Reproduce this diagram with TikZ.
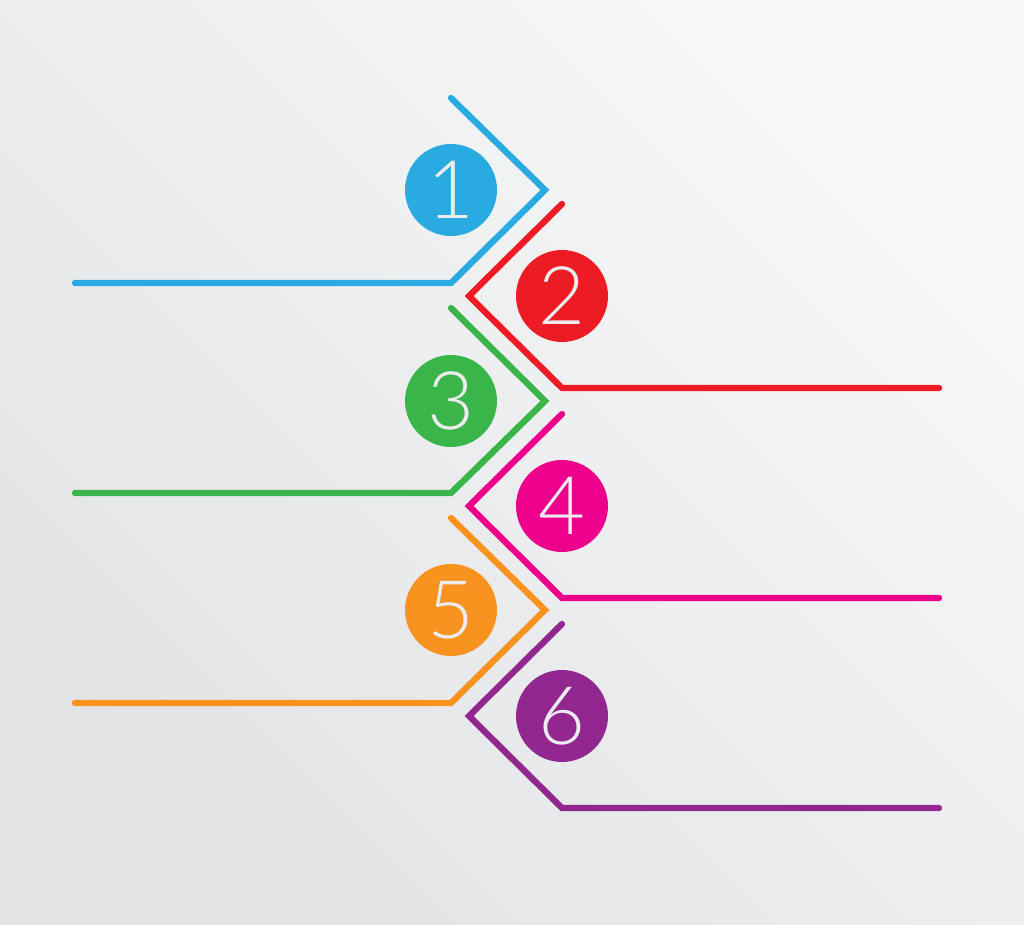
\documentclass[tikz,border=0pt]{standalone}
\usepackage{fontspec}
\setmainfont{Lato}
\newfontfamily\numfont{Lato Light}
\usepackage{tikz}
\usetikzlibrary{calc,positioning}
\usepackage{xcolor}
\definecolor{cblue}{RGB}{41,171,226}
\definecolor{cred}{RGB}{237,28,36}
\definecolor{cgreen}{RGB}{57,181,74}
\definecolor{cmagenta}{RGB}{236,0,140}
\definecolor{corange}{RGB}{247,147,30}
\definecolor{cpurple}{RGB}{146,39,143}
\definecolor{numtext}{RGB}{236,236,238}
\definecolor{bgdark}{RGB}{225,227,229}
\definecolor{bglight}{RGB}{248,248,248}

\tikzset{
  chevline/.style={line width=3.6pt,line cap=round,line join=miter},
  numdot/.style={circle,fill=#1,minimum size=1.84cm,inner sep=0pt,
    text=numtext,font=\numfont\fontsize{46}{46}\selectfont}
}

\begin{document}
\begin{tikzpicture}[x=0.02cm,y=-0.02cm]
\useasboundingbox (0,0) rectangle (1024,925);
\shade[left color=bglight,right color=bgdark,shading angle=-45] (0,925) rectangle (1024,0);
% left-hand chevrons
\draw[chevline,cblue] (451,98)--(545,190)--(451,283)--(75,283);
\draw[chevline,cgreen] (451,308)--(545,401)--(451,493)--(75,493);
\draw[chevline,corange] (451,518)--(545,610)--(451,703)--(75,703);
% right-hand chevrons
\draw[chevline,cred] (562,204)--(469,296)--(562,388)--(939,388);
\draw[chevline,cmagenta] (562,414)--(469,506)--(562,598)--(939,598);
\draw[chevline,cpurple] (562,624)--(469,716)--(562,808)--(939,808);
% numbers
\node[numdot=cblue] (n1) at (451,190) {1};
\node[numdot=cred] (n2) at (562,296) {2};
\node[numdot=cgreen] (n3) at (451,401) {3};
\node[numdot=cmagenta] (n4) at (562,506) {4};
\node[numdot=corange] (n5) at (451,610) {5};
\node[numdot=cpurple] (n6) at (562,716) {6};
\end{tikzpicture}
\end{document}
